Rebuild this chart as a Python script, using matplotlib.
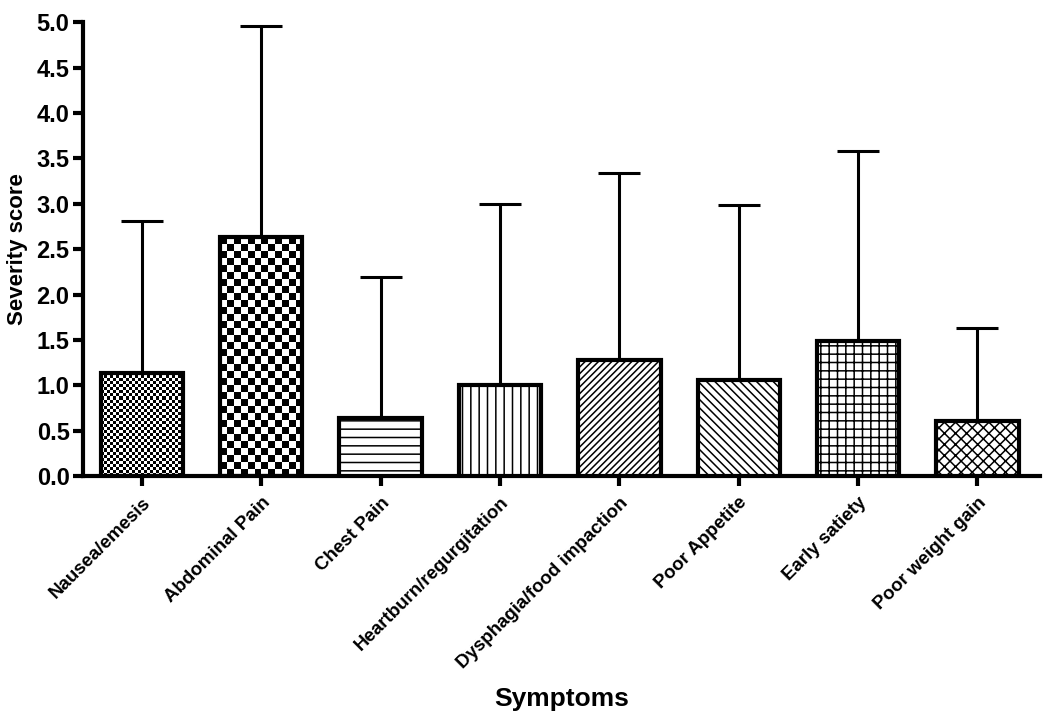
import numpy as np
import matplotlib
matplotlib.use("Agg")
from matplotlib import pyplot as plt

symptoms = ["Nausea/emesis", "Abdominal Pain", "Chest Pain", "Heartburn/regurgitation",
            "Dysphagia/food impaction", "Poor Appetite", "Early satiety", "Poor weight gain"]
means = [1.14, 2.63, 0.64, 1.00, 1.28, 1.06, 1.49, 0.61]
upper = [2.81, 4.96, 2.19, 3.00, 3.34, 2.99, 3.58, 1.63]
hatches = [None, None, "--", "||", "/////", "\\\\\\\\", "++", "xxx"]
checker_px = {0: 3, 1: 7}  # checkerboard square size in pixels

plt.rcParams['font.family'] = ['Liberation Sans', 'DejaVu Sans']
plt.rcParams['font.weight'] = 'bold'
plt.rcParams['hatch.linewidth'] = 1.1

fig = plt.figure(figsize=(10.5, 7.18), dpi=100)
ax = fig.add_axes([0.0795, 0.337, 0.9105, 0.632])

x = np.arange(len(symptoms))
width = 0.69
xlim = (-0.49, 7.52)
ylim = (0, 5.0)

bars = []
for i in range(len(symptoms)):
    fc = "none" if i in checker_px else "white"
    b = ax.bar(x[i], means[i], width=width, facecolor=fc, edgecolor="black",
               linewidth=3, hatch=hatches[i], zorder=3)[0]
    bars.append(b)

ax.set_xlim(*xlim)
ax.set_ylim(*ylim)

# checkerboard fills for the first two bars
ax_w_px = 0.9105 * 1050
ax_h_px = 0.632 * 718
for i, sq in checker_px.items():
    b = bars[i]
    w_px = width / (xlim[1] - xlim[0]) * ax_w_px
    h_px = means[i] / (ylim[1] - ylim[0]) * ax_h_px
    nx = max(1, int(round(w_px / sq)))
    ny = max(1, int(round(h_px / sq)))
    yy, xx = np.indices((ny, nx))
    board = (yy + xx) % 2
    im = ax.imshow(board, cmap="gray", interpolation="nearest", aspect="auto",
                   extent=(x[i] - width / 2, x[i] + width / 2, 0, means[i]),
                   zorder=2)
    im.set_clip_path(b)

ax.set_xlim(*xlim)
ax.set_ylim(*ylim)

err = np.array(upper) - np.array(means)
ax.errorbar(x, means, yerr=[np.zeros(len(x)), err], fmt="none", ecolor="black",
            elinewidth=2.2, capsize=15, capthick=2.2, zorder=2.5)

for s in ["top", "right"]:
    ax.spines[s].set_visible(False)
for s in ["left", "bottom"]:
    ax.spines[s].set_linewidth(3)

yt = np.arange(0, 5.01, 0.5)
ax.set_yticks(yt)
ax.set_yticklabels([f"{v:.1f}" for v in yt], fontsize=17, fontweight="bold")
ax.set_xticks(x)
ax.set_xticklabels(symptoms, rotation=45, ha="right", rotation_mode="anchor",
                   fontsize=13.5, fontweight="bold")
ax.tick_params(axis="both", width=3, length=7, direction="out")
ax.tick_params(axis="x", pad=6)
ax.tick_params(axis="y", pad=3)

ax.set_ylabel("Severity score", fontsize=16, fontweight="bold", labelpad=6)
ax.set_xlabel("Symptoms", fontsize=19, fontweight="bold")
ax.xaxis.set_label_coords(0.5, -0.465)

fig.savefig("out.png", dpi=100)
